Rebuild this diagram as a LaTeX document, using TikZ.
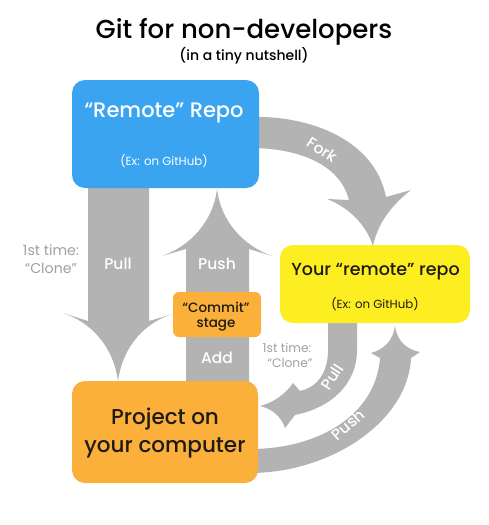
\documentclass[tikz,border=0pt]{standalone}
\usepackage{fontspec}
\setmainfont{Poppins}
\newfontfamily\medfont{Poppins Medium}
\usetikzlibrary{positioning}
\definecolor{repoblue}{HTML}{3AA4F1}
\definecolor{stageorange}{HTML}{FBB03B}
\definecolor{forkyellow}{HTML}{FCEE21}
\definecolor{arrowgray}{HTML}{B3B3B3}
\definecolor{notegray}{HTML}{A0A0A0}
\definecolor{inkdark}{HTML}{1E1A14}

\begin{document}
\begin{tikzpicture}[x=1pt,y=-1pt,
  box/.style={rounded corners=13pt, inner sep=0pt},
  band/.style={fill=arrowgray},
  boxtext/.style={anchor=base, text=inkdark, font=\medfont\fontsize{21}{25}\selectfont},
  subtext/.style={anchor=base, text=#1, font=\fontsize{11.8}{14}\selectfont},
  lbl/.style={text=white, inner sep=1pt, font=\medfont\fontsize{15.5}{18}\selectfont},
  note/.style={anchor=base, text=notegray, font=\fontsize{#1}{16}\selectfont}]
\useasboundingbox (0,0) rectangle (488,525);

% title
\node[anchor=base, font=\medfont\fontsize{26}{30}\selectfont] (title) at (244,38) {Git for non-developers};
\node[anchor=base, font=\medfont\fontsize{14}{17}\selectfont] (subtitle) at (244,60) {(in a tiny nutshell)};

% pull: remote -> project
\fill[band] (88,185) -- (88,321) -- (63,313) .. controls (90,322) and (113,345) .. (118,381)
  .. controls (123,345) and (146,322) .. (173,314) -- (149,321) -- (149,185) -- cycle;

% push: project -> remote
\fill[band] (186,385) -- (186,249) -- (162,256) .. controls (190,246) and (213,222) .. (217,189)
  .. controls (221,222) and (244,246) .. (272,256) -- (249,249) -- (249,385) -- cycle;

% fork: remote -> your repo
\fill[band] (250,117) .. controls (310,115) and (375,140) .. (386,197) -- (411,190)
  .. controls (393,204) and (378,222) .. (373,246) .. controls (366,225) and (350,208) .. (327,199)
  -- (349,200) .. controls (340,165) and (300,148) .. (250,148) -- cycle;

% pull: your repo -> project
\fill[band] (328,318) -- (328,350) .. controls (328,375) and (315,388) .. (300,391) -- (293,383)
  .. controls (285,395) and (272,403) .. (260,406) .. controls (272,409) and (281,416) .. (285,428)
  -- (295,415) .. controls (330,408) and (357,385) .. (357,350) -- (357,318) -- cycle;

% push: project -> your repo
\fill[band] (250,449) .. controls (320,449) and (376,414) .. (380,358) -- (371,353)
  .. controls (385,349) and (393,340) .. (395,326) .. controls (397,340) and (405,349) .. (420,352)
  -- (411,358) .. controls (408,422) and (330,473) .. (250,473) -- cycle;

% boxes
\node[box, fill=repoblue, minimum width=187pt, minimum height=108pt] (remote) at (165.5,134) {};
\node[box, fill=forkyellow, minimum width=190pt, minimum height=78pt] (yours) at (375,284) {};
\node[box, fill=stageorange, minimum width=186pt, minimum height=102pt] (project) at (165,432) {};
\node[box, rounded corners=6pt, fill=stageorange, minimum width=88pt, minimum height=45pt] (commit) at (217,314.5) {};

% box texts
\node[boxtext, text=white] (remote-t) at (164,117) {“Remote” Repo};
\node[subtext=white] (remote-s) at (164,165) {(Ex: on GitHub)};
\node[boxtext, font=\medfont\fontsize{17.5}{21}\selectfont] (yours-t) at (375.5,275) {Your “remote” repo};
\node[subtext=inkdark] (yours-s) at (375,308) {(Ex: on GitHub)};
\node[boxtext, font=\medfont\fontsize{21.5}{26}\selectfont] (project-t1) at (165,424) {Project on};
\node[boxtext, font=\medfont\fontsize{21.5}{26}\selectfont] (project-t2) at (165,452) {your computer};
\node[boxtext, font=\medfont\fontsize{13.5}{16}\selectfont] (commit-t1) at (216,312) {“Commit”};
\node[boxtext, font=\medfont\fontsize{13.5}{16}\selectfont] (commit-t2) at (216,327) {stage};

% arrow labels
\node[lbl, anchor=base] (pull-l) at (118,269) {Pull};
\node[lbl, anchor=base] (push-l) at (217,269) {Push};
\node[lbl, anchor=base] (add-l) at (217,363) {Add};
\node[lbl, rotate=-33] (fork-l) at (322,150) {Fork};
\node[lbl, rotate=57] (pull-r) at (332,377) {Pull};
\node[lbl, rotate=42] (push-r) at (348,425) {Push};

% notes
\node[note=14.2] (clone-a1) at (51,255) {1st time:};
\node[note=14.2] (clone-a2) at (51,273) {“Clone”};
\node[note=12.3] (clone-b1) at (287,352) {1st time:};
\node[note=12.3] (clone-b2) at (290,367) {“Clone”};
\end{tikzpicture}
\end{document}
